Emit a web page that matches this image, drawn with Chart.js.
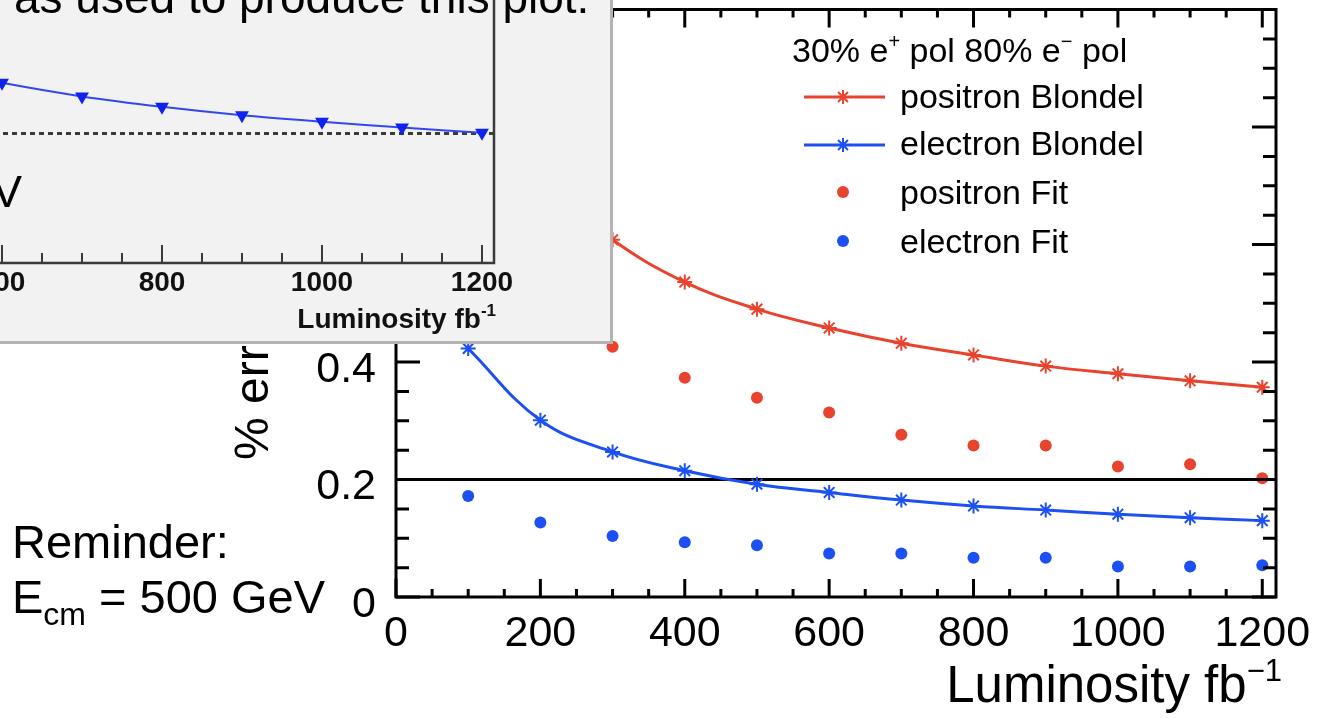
<!DOCTYPE html>
<html>
<head>
<meta charset="utf-8">
<script src="https://cdn.jsdelivr.net/npm/chart.js@4.4.1/dist/chart.umd.min.js"></script>
<style>
  html, body { margin: 0; padding: 0; background: #fff; }
  body { width: 1330px; height: 718px; position: relative; overflow: hidden; font-family: 'Liberation Sans', Arial, sans-serif; }
  #mainChart { position: absolute; left: 0; top: 0; }
  #inset { position: absolute; left: 0; top: 0; width: 610px; height: 341px; background: #f2f2f2;
           border-right: 3px solid #b4b4b4; border-bottom: 3px solid #b4b4b4; overflow: hidden; }
  #insetChart { position: absolute; left: -100px; top: -70px; }
  .slide { position: absolute; line-height: 1; white-space: nowrap; color: #000; }
</style>
</head>
<body>
<canvas id="mainChart" width="1330" height="718"></canvas>
<div id="inset">
  <canvas id="insetChart" width="700" height="410"></canvas>
  <div class="slide" style="left:-8px; top:169px; font-size:45px;">V</div>
</div>
<div class="slide" style="left:14px; top:-26px; font-size:46px;">as used to produce this plot:</div>
<div class="slide" style="left:12px; top:518px; font-size:47px;">Reminder:</div>
<div class="slide" style="left:12px; top:573px; font-size:47px;">E<span style="font-size:32px; position:relative; top:12px;">cm</span> = 500 GeV</div>

<script>
'use strict'

// Main plot data (luminosity in fb^-1, % error)
const luminosity = [100, 200, 300, 400, 500, 600, 700, 800, 900, 1000, 1100, 1200];
const positronBlondel = [0.96, 0.71, 0.608, 0.536, 0.490, 0.458, 0.432, 0.412, 0.393, 0.380, 0.368, 0.357];
const electronBlondel = [0.423, 0.301, 0.247, 0.215, 0.192, 0.178, 0.165, 0.155, 0.148, 0.141, 0.135, 0.130];
const positronFit = [0.74, 0.52, 0.426, 0.373, 0.339, 0.314, 0.276, 0.258, 0.258, 0.222, 0.226, 0.202];
const electronFit = [0.172, 0.127, 0.104, 0.093, 0.088, 0.074, 0.074, 0.067, 0.067, 0.052, 0.052, 0.054];
const targetError = 0.2;
const xRange = [0, 1219];
const yRange = [0, 1];
const xTickValues = [0, 200, 400, 600, 800, 1000, 1200];
const yTickValues = [0, 0.2, 0.4, 0.6, 0.8, 1];

// Inset plot data (older plot, partly visible)
const insetLuminosity = [500, 600, 700, 800, 900, 1000, 1100, 1200];
const insetError = [0.303, 0.278, 0.257, 0.241, 0.228, 0.218, 0.209, 0.201];
const insetTarget = 0.2;
const insetXRange = [500, 1215];
const insetYRange = [0, 0.5];
const insetTickValues = [600, 800, 1000, 1200];

const RED = '#e8432f';
const BLUE = '#1d50f2';
const FONT = "'Liberation Sans', Arial, Helvetica, sans-serif";

function toPoints(xs, ys) {
  return xs.map((x, i) => ({x: x, y: ys[i]}));
}

function fixedTicks(values) {
  return function (scale) {
    scale.ticks = values.map(v => ({value: v}));
  };
}

// Draws text pieces, some as superscripts
function drawRichText(ctx, parts, x, y, size, align, weight) {
  const w = weight ? weight + ' ' : '';
  const supSize = Math.round(size * 0.6);
  let total = 0;
  const widths = parts.map(p => {
    ctx.font = w + (p.sup ? supSize : size) + 'px ' + FONT;
    const width = ctx.measureText(p.text).width;
    total += width;
    return width;
  });
  let cx = align === 'right' ? x - total : x;
  ctx.textAlign = 'left';
  ctx.textBaseline = 'alphabetic';
  parts.forEach((p, i) => {
    ctx.font = w + (p.sup ? supSize : size) + 'px ' + FONT;
    ctx.fillText(p.text, cx, p.sup ? y - size * 0.42 : y);
    cx += widths[i];
  });
}

function drawStar(ctx, x, y, r, color, lw) {
  const d = r * Math.SQRT1_2;
  ctx.strokeStyle = color;
  ctx.lineWidth = lw;
  ctx.beginPath();
  ctx.moveTo(x - r, y); ctx.lineTo(x + r, y);
  ctx.moveTo(x, y - r); ctx.lineTo(x, y + r);
  ctx.moveTo(x - d, y - d); ctx.lineTo(x + d, y + d);
  ctx.moveTo(x - d, y + d); ctx.lineTo(x + d, y - d);
  ctx.stroke();
}

// ROOT style frame with inner ticks on all four sides
const rootFrame = {
  id: 'rootFrame',
  afterDatasetsDraw(chart) {
    const {ctx, chartArea: a, scales: {x, y}} = chart;
    ctx.save();
    ctx.strokeStyle = '#000';
    ctx.lineWidth = 3;
    ctx.strokeRect(a.left, a.top, a.right - a.left, a.bottom - a.top);
    ctx.beginPath();
    for (let v = 0; v <= x.max; v += 50) {
      const px = x.getPixelForValue(v);
      const len = v % 200 === 0 ? 18 : 8;
      ctx.moveTo(px, a.bottom); ctx.lineTo(px, a.bottom - len);
      ctx.moveTo(px, a.top); ctx.lineTo(px, a.top + len);
    }
    for (let i = 0; i <= 20; i++) {
      const py = y.getPixelForValue(i * 0.05);
      const len = i % 4 === 0 ? 24 : 13;
      ctx.moveTo(a.left, py); ctx.lineTo(a.left + len, py);
      ctx.moveTo(a.right, py); ctx.lineTo(a.right - len, py);
    }
    ctx.stroke();
    ctx.restore();
  },
  afterDraw(chart) {
    const ctx = chart.ctx;
    ctx.save();
    ctx.fillStyle = '#000';

    // axis titles
    drawRichText(ctx, [{text: 'Luminosity fb'}, {text: '\u22121', sup: true}], 1282, 702, 51, 'right');
    ctx.translate(268, 460);
    ctx.rotate(-Math.PI / 2);
    ctx.font = '48px ' + FONT;
    ctx.textAlign = 'left';
    ctx.textBaseline = 'alphabetic';
    ctx.fillText('% error', 0, 0);
    ctx.restore();

    // legend
    ctx.save();
    ctx.fillStyle = '#000';
    drawRichText(ctx, [{text: '30% e'}, {text: '+', sup: true}, {text: ' pol 80% e'},
      {text: '\u2212', sup: true}, {text: ' pol'}], 792, 62, 34, 'left');
    const rows = [[97, 108], [145, 155], [192, 204], [241, 253]];
    chart.data.datasets.slice(0, 4).forEach((ds, i) => {
      const my = rows[i][0];
      if (ds.showLine !== false) {
        ctx.strokeStyle = ds.borderColor;
        ctx.lineWidth = 3;
        ctx.beginPath();
        ctx.moveTo(804, my); ctx.lineTo(885, my);
        ctx.stroke();
        drawStar(ctx, 843, my, 7, ds.borderColor, 2);
      } else {
        ctx.fillStyle = ds.backgroundColor;
        ctx.beginPath();
        ctx.arc(843, my, 6, 0, Math.PI * 2);
        ctx.fill();
      }
      ctx.fillStyle = '#000';
      ctx.font = '34px ' + FONT;
      ctx.textAlign = 'left';
      ctx.textBaseline = 'alphabetic';
      ctx.fillText(ds.label, 900, rows[i][1]);
    });
    ctx.restore();
  }
};

function blondel(label, values, color) {
  return {
    label: label,
    data: toPoints(luminosity, values),
    borderColor: color,
    backgroundColor: color,
    borderWidth: 3,
    tension: 0.4,
    pointStyle: 'star',
    pointRadius: 7.5,
    pointBorderWidth: 2,
    pointBorderColor: color,
    fill: false
  };
}

function fitPoints(label, values, color) {
  return {
    label: label,
    data: toPoints(luminosity, values),
    showLine: false,
    borderColor: color,
    backgroundColor: color,
    pointStyle: 'circle',
    pointRadius: 6,
    pointBorderWidth: 0
  };
}

function numLabel(v) {
  return String(Number(v.toFixed(2)));
}

new Chart(document.getElementById('mainChart'), {
  type: 'line',
  data: {
    datasets: [
      blondel('positron Blondel', positronBlondel, RED),
      blondel('electron Blondel', electronBlondel, BLUE),
      fitPoints('positron Fit', positronFit, RED),
      fitPoints('electron Fit', electronFit, BLUE),
      {
        label: '',
        data: [{x: xRange[0], y: targetError}, {x: xRange[1], y: targetError}],
        borderColor: '#000',
        borderWidth: 3,
        pointRadius: 0
      }
    ]
  },
  options: {
    responsive: false,
    animation: false,
    events: [],
    layout: {padding: {left: 0, right: 54, top: 9, bottom: 0}},
    plugins: {legend: {display: false}, tooltip: {enabled: false}},
    scales: {
      x: {
        type: 'linear',
        min: xRange[0],
        max: xRange[1],
        grid: {display: false, drawTicks: false},
        border: {display: false},
        afterBuildTicks: fixedTicks(xTickValues),
        ticks: {
          autoSkip: false,
          maxRotation: 0,
          padding: 11,
          color: '#000',
          font: {family: FONT, size: 43},
          callback: numLabel
        },
        afterFit(scale) {
          scale.height = 121;
          scale.paddingLeft = 0; scale.paddingRight = 0;
        }
      },
      y: {
        type: 'linear',
        min: yRange[0],
        max: yRange[1],
        grid: {display: false, drawTicks: false},
        border: {display: false},
        afterBuildTicks: fixedTicks(yTickValues),
        ticks: {
          padding: 20,
          labelOffset: 8,
          color: '#000',
          font: {family: FONT, size: 43},
          callback: numLabel
        },
        afterFit(scale) {
          scale.width = 396;
          scale.paddingTop = 0; scale.paddingBottom = 0;
        }
      }
    }
  },
  plugins: [rootFrame]
});

// Inset: right and bottom frame, ticks on the bottom axis, axis title
const insetFrame = {
  id: 'insetFrame',
  afterDatasetsDraw(chart) {
    const {ctx, chartArea: a, scales: {x}} = chart;
    ctx.save();
    ctx.strokeStyle = '#3a3a3a';
    ctx.lineWidth = 2.5;
    ctx.beginPath();
    ctx.moveTo(a.left, a.bottom); ctx.lineTo(a.right, a.bottom); ctx.lineTo(a.right, a.top);
    ctx.stroke();
    ctx.lineWidth = 2;
    ctx.beginPath();
    for (let v = x.min; v <= x.max; v += 50) {
      const px = x.getPixelForValue(v);
      const len = v % 200 === 0 ? 18 : 10;
      ctx.moveTo(px, a.bottom); ctx.lineTo(px, a.bottom - len);
    }
    ctx.stroke();
    ctx.fillStyle = '#111';
    drawRichText(ctx, [{text: 'Luminosity fb'}, {text: '-1', sup: true}], a.right + 2, a.bottom + 65, 28, 'right', 'bold');
    ctx.restore();
  }
};

new Chart(document.getElementById('insetChart'), {
  type: 'line',
  data: {
    datasets: [
      {
        data: toPoints(insetLuminosity, insetError),
        borderColor: '#3347f0',
        backgroundColor: '#0f22f0',
        borderWidth: 2,
        tension: 0.3,
        pointStyle: 'triangle',
        rotation: 180,
        pointRadius: 8,
        pointBorderWidth: 0
      },
      {
        data: [{x: insetXRange[0], y: insetTarget}, {x: insetXRange[1], y: insetTarget}],
        borderColor: '#3a3a3a',
        borderWidth: 3,
        borderDash: [5, 4],
        pointRadius: 0
      }
    ]
  },
  options: {
    responsive: false,
    animation: false,
    events: [],
    layout: {padding: {left: 22, right: 106, top: 9, bottom: 0}},
    plugins: {legend: {display: false}, tooltip: {enabled: false}},
    scales: {
      x: {
        type: 'linear',
        min: insetXRange[0],
        max: insetXRange[1],
        grid: {display: false, drawTicks: false},
        border: {display: false},
        afterBuildTicks: fixedTicks(insetTickValues),
        ticks: {
          autoSkip: false,
          maxRotation: 0,
          padding: 3,
          color: '#111',
          font: {family: FONT, size: 28, weight: 'bold'},
          callback: numLabel
        },
        afterFit(scale) {
          scale.height = 77;
          scale.paddingLeft = 0; scale.paddingRight = 0;
        }
      },
      y: {
        type: 'linear',
        display: false,
        min: insetYRange[0],
        max: insetYRange[1]
      }
    }
  },
  plugins: [insetFrame]
});
</script>
</body>
</html>
